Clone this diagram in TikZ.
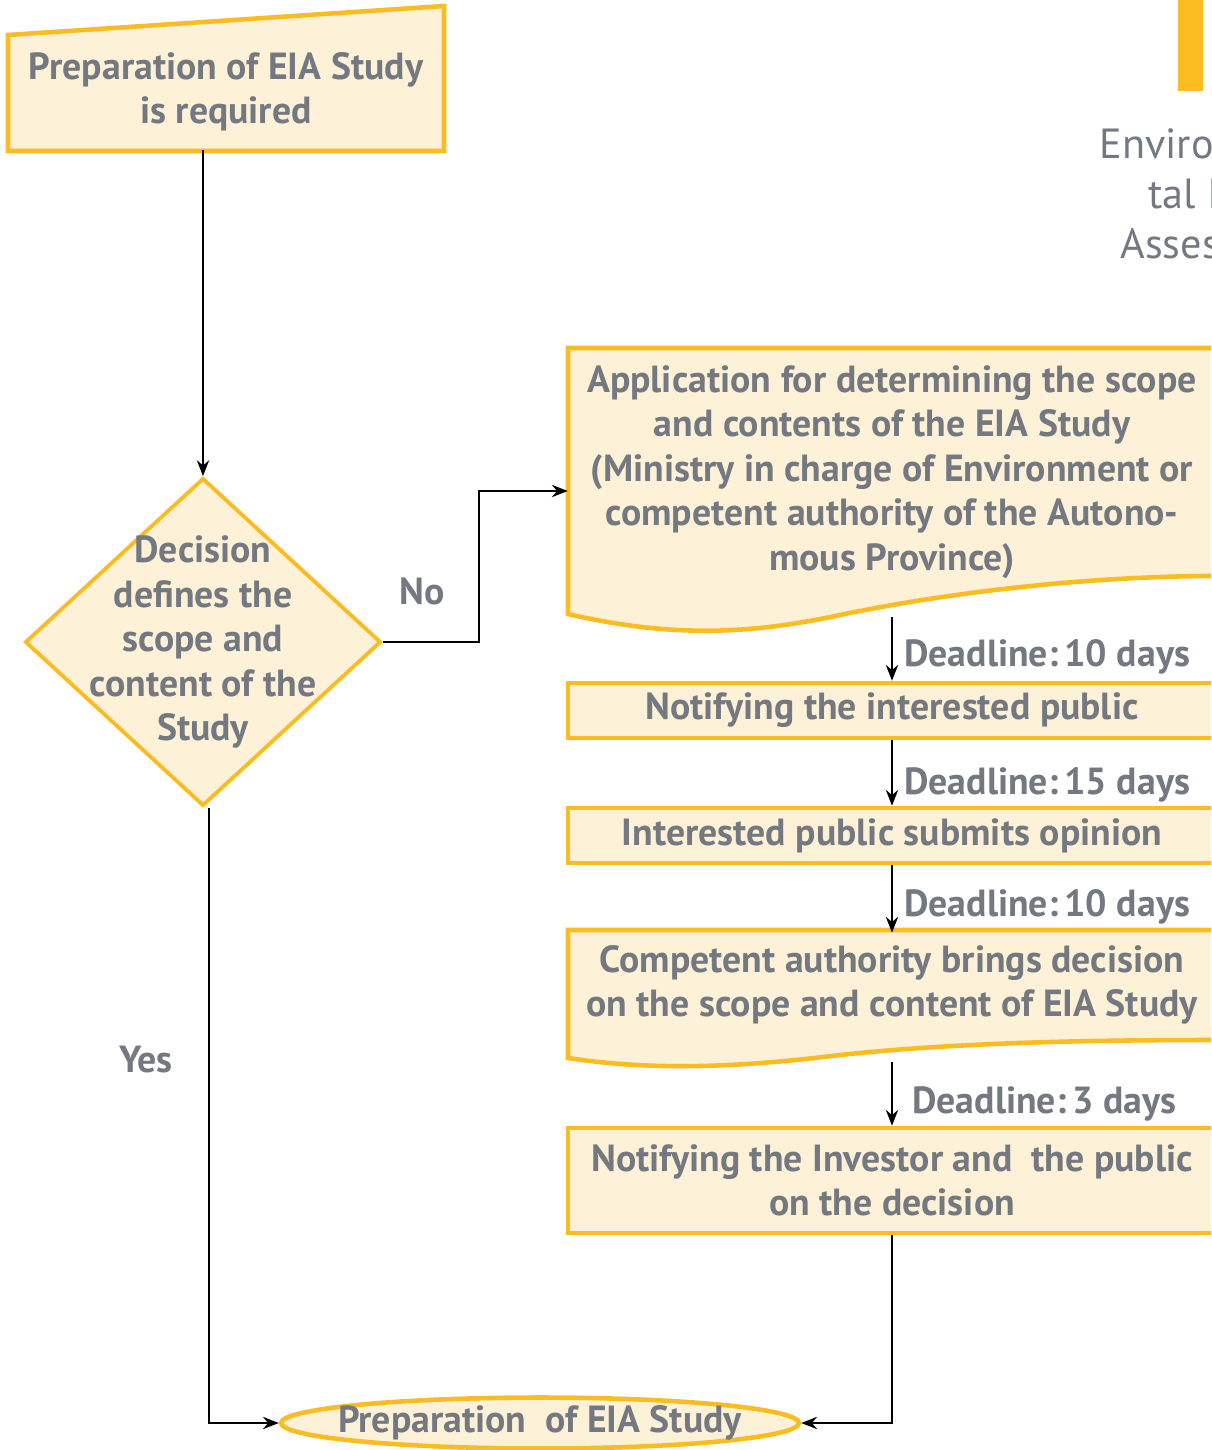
\documentclass[tikz,border=0pt]{standalone}
\usepackage{fontspec}
\setmainfont{PT Sans}
\usetikzlibrary{shapes.geometric, arrows.meta}
\definecolor{ylw}{HTML}{FBBC22}
\definecolor{crm}{HTML}{FDF1D7}
\definecolor{gry}{HTML}{747981}

\begin{document}
\begin{tikzpicture}[x=0.02cm, y=-0.02cm]
	\tikzset{tx/.style={rectangle, inner sep=0pt, align=center, text=gry, font=\bfseries\fontsize{21.5}{25.3}\selectfont}}
	\tikzset{bx/.style={tx, draw=ylw, fill=crm, line width=2.6pt, minimum width=12.96cm}}
	\tikzset{fr/.style={draw=ylw, fill=crm, line width=2.6pt, line join=miter}}
	\tikzset{dc/.style={diamond, draw=ylw, fill=crm, line width=2.2pt, inner sep=0pt, minimum width=7.12cm, minimum height=6.56cm}}
	\tikzset{el/.style={ellipse, draw=ylw, fill=crm, line width=2.6pt, inner sep=0pt, minimum width=10.36cm, minimum height=1.02cm}}
	\tikzset{lb/.style={text=gry, font=\bfseries\fontsize{21.5}{25.3}\selectfont, inner sep=0pt}}
	\tikzset{ar/.style={-{Stealth[length=9pt, width=7pt]}, line width=1.1pt, black}}

	\useasboundingbox (0,0) rectangle (1211,1450);
	\clip (0,0) rectangle (1211,1450);

	% frames
	\draw[fr] (8,35) -- (444,6) -- (444,151) -- (8,151) -- cycle;
	\draw[fr] (568,348) -- (1216,348) -- (1216,576) .. controls (1100,576) and (960,590) .. (840,615) .. controls (760,632) and (680,640) .. (568,614) -- cycle;
	\draw[fr] (568,930) -- (1216,930) -- (1216,1040) .. controls (1100,1040) and (960,1042) .. (840,1055) .. controls (750,1066) and (660,1072) .. (568,1058) -- cycle;
	\fill[ylw] (1178,0) rectangle (1203,91);

	% nodes
	\node[tx, minimum width=8.72cm, minimum height=2.32cm] (req) at (226,92) {Preparation of EIA Study\\is required};
	\node[dc] (dec) at (203,642) {};
	\node[tx] (dect) at (dec) {Decision\\defines the\\scope and\\content of the\\Study};
	\node[tx, minimum width=12.96cm, minimum height=4.84cm] (app) at (892,472) {Application for determining the scope\\and contents of the EIA Study\\(Ministry in charge of Environment or\\competent authority of the Autono-\\mous Province)};
	\node[bx, minimum height=1.1cm] (ntf) at (892,710.5) {Notifying the interested public};
	\node[bx, minimum height=1.1cm] (opn) at (892,835.5) {Interested public submits opinion};
	\node[tx, minimum width=12.96cm, minimum height=2.08cm] (cmp) at (892,985) {Competent authority brings decision\\on the scope and content of EIA Study};
	\node[bx, minimum height=2.1cm] (inv) at (892,1180.5) {Notifying the Investor and\ \ the public\\on the decision};
	\node[el] (prep) at (540,1423) {};
	\node[tx] (prept) at (prep) {Preparation\ \ of EIA Study};
	\node[text=gry, font=\fontsize{24}{28.5}\selectfont, align=right, inner sep=0pt, anchor=east] (env) at (1331,194) {Environmen-\\tal Impact\\Assessment};

	\coordinate (appb) at (892,617);
	\coordinate (cmpb) at (892,1062);

	% labels
	\node[lb] (no) at (422,591) {No};
	\node[lb] (yes) at (146,1060) {Yes};
	\node[lb, anchor=west] (d1) at (904,657) {Deadline:\,10 days};
	\node[lb, anchor=west] (d2) at (904,785) {Deadline:\,15 days};
	\node[lb, anchor=west] (d3) at (904,907) {Deadline:\,10 days};
	\node[lb, anchor=west] (d4) at (912,1104) {Deadline:\,3 days};

	% connectors
	\draw[ar] (dec.north |- req.south) -- (dec.north);
	\draw[ar] (dec.east) -- ++(96,0) |- ([yshift=-0.38cm]app.west);
	\draw[ar] (appb) -- (ntf.north);
	\draw[ar] (ntf.south) -- (opn.north);
	\draw[ar] (opn.south) -- (cmp.north);
	\draw[ar] (cmpb) -- (inv.north);
	\draw[ar] ([xshift=0.12cm]dec.south) |- (prep.west);
	\draw[ar] (inv.south) |- (prep.east);

\end{tikzpicture}
\end{document}
